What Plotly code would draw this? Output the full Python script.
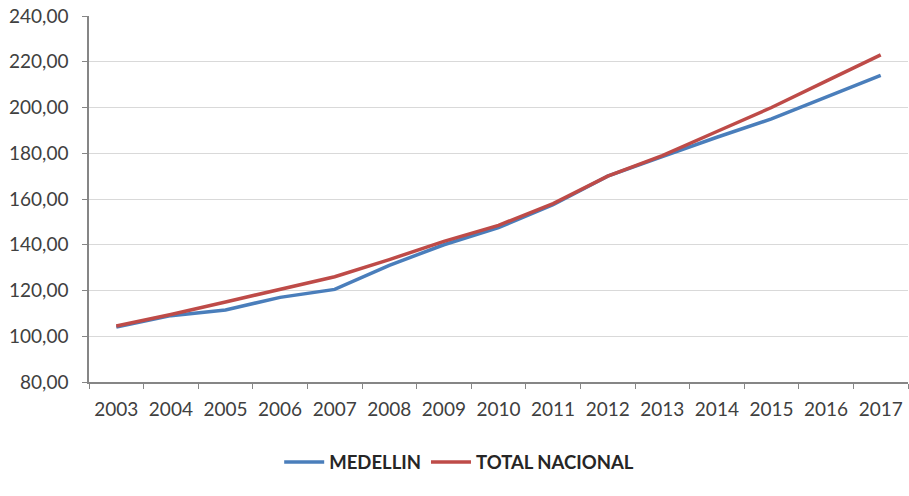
import plotly.graph_objects as go

years = [str(y) for y in range(2003, 2018)]
medellin = [104, 109, 111.5, 117, 120.5, 131, 140, 147.5, 157.5, 170, 178.5, 187, 195, 204.5, 214]
total_nacional = [104.5, 109.5, 115, 120.5, 126, 133.5, 141.5, 148.5, 158, 170, 179, 189.5, 200, 211.5, 223]

fig = go.Figure()
fig.add_trace(go.Scatter(x=years, y=medellin, mode="lines", name="MEDELLIN",
                         line=dict(color="#4A7EBB", width=3.5)))
fig.add_trace(go.Scatter(x=years, y=total_nacional, mode="lines", name="TOTAL NACIONAL",
                         line=dict(color="#BE4B48", width=3.5)))

fig.update_layout(
    width=909, height=496,
    margin=dict(l=89, r=1, t=16, b=114),
    paper_bgcolor="white", plot_bgcolor="white",
    separators=",.",
    font=dict(family="Lato", size=19, color="#404040"),
    showlegend=True,
    legend=dict(orientation="h", x=0.452, xanchor="center", y=-0.22, yanchor="middle",
                font=dict(family="Lato", size=18.5, color="#262626", weight="bold"),
                itemwidth=40, tracegroupgap=0),
)
fig.update_xaxes(type="category", range=[-0.5, 14.5], showgrid=False,
                 showline=True, linecolor="#868686", linewidth=1.5,
                 ticks="outside", tickson="boundaries", ticklen=5, tickcolor="#868686",
                 ticklabelstandoff=9)
fig.update_yaxes(range=[80, 240], dtick=20, tickformat=".2f",
                 showgrid=True, gridcolor="#D9D9D9", gridwidth=1,
                 showline=True, linecolor="#868686", linewidth=1.5,
                 ticks="outside", ticklen=5, tickcolor="#868686",
                 zeroline=False, ticklabelstandoff=10)

fig.write_html("out.html")
